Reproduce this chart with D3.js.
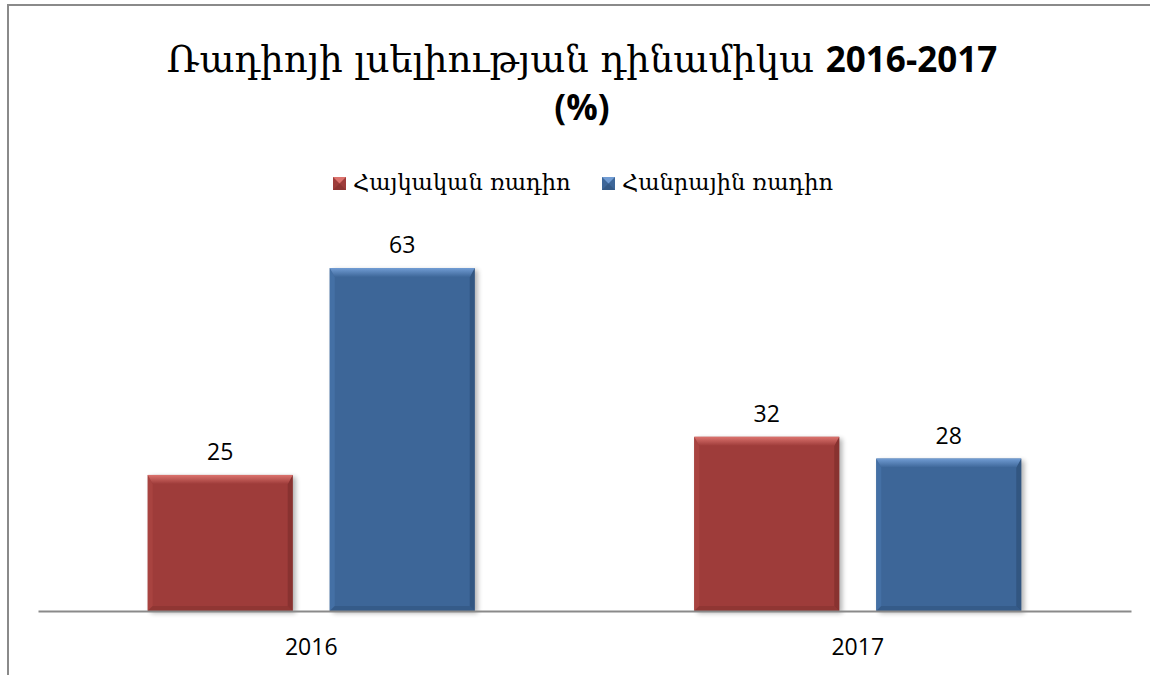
<!DOCTYPE html>
<html>
<head>
    <meta charset="utf-8">
    <title>Radio</title>
    <script src="https://d3js.org/d3.v7.min.js"></script>
    <style type="text/css">
        body { margin: 0; background: #ffffff; }
        svg { display: block; background: #ffffff; }
        .arm { font-family: "DejaVu Serif", serif; }
        .num { font-family: "Open Sans", "Liberation Sans", sans-serif; }
    </style>
</head>
<body>
<div id="chart"></div>
<script>
// data
var years = ["2016", "2017"]
var series = ["Հայկական ռադիո", "Հանրային ռադիո"]
var values = [[25, 32], [63, 28]]   // values[series][year]
var colors = [
    {main: "#9e3c3a", light: "#dc736e", side: "#a84340", dark: "#7a2c2a"},
    {main: "#3d6698", light: "#719cd3", side: "#4470a5", dark: "#2b4b72"}
]
var titleArm = "Ռադիոյի լսելիության դինամիկա "
var titleNum = "2016-2017"

var width = 1150, height = 675
var plot = {left: 38, right: 1131, top: 230, bottom: 611}

var svg = d3.select("#chart").append("svg")
    .attr("width", width)
    .attr("height", height)

var defs = svg.append("defs")
defs.append("filter").attr("id", "shadow")
    .attr("x", "-10%").attr("y", "-10%").attr("width", "130%").attr("height", "130%")
    .append("feGaussianBlur").attr("stdDeviation", 2.5)
var grads = colors.map(function(c, i) {
    var gr = defs.append("linearGradient").attr("id", "top" + i)
        .attr("x1", 0).attr("y1", 0).attr("x2", 0).attr("y2", 1)
    gr.append("stop").attr("offset", "0%").attr("stop-color", c.light)
    gr.append("stop").attr("offset", "100%").attr("stop-color", c.main)
    return "url(#top" + i + ")"
})

// outer frame (only top and left visible)
svg.append("path")
    .attr("d", "M8,675 L8,5 L1150,5")
    .attr("fill", "none")
    .attr("stroke", "#8a8a8a")
    .attr("stroke-width", 2)

// title
var title = svg.append("text")
    .attr("x", 582).attr("y", 72)
    .attr("text-anchor", "middle")
    .attr("fill", "#000")
title.append("tspan").attr("class", "arm").style("font-size", "37px").text(titleArm)
title.append("tspan").attr("class", "num").style("font-size", "35px").style("font-weight", "bold").text(titleNum)
svg.append("text")
    .attr("class", "num")
    .attr("x", 582).attr("y", 120)
    .attr("text-anchor", "middle")
    .style("font-size", "35px").style("font-weight", "bold")
    .text("(%)")

// legend
var legendX = [333, 602]
series.forEach(function(s, i) {
    var g = svg.append("g").attr("transform", "translate(" + legendX[i] + ",177)")
    g.append("rect").attr("width", 13).attr("height", 13).attr("fill", colors[i].main)
    g.append("path").attr("d", "M0,0 L13,0 L6.5,6.5 Z").attr("fill", colors[i].light)
    g.append("path").attr("d", "M0,13 L13,13 L6.5,6.5 Z").attr("fill", colors[i].dark).attr("opacity", 0.5)
    g.append("text").attr("class", "arm")
        .attr("x", 20).attr("y", 13)
        .style("font-size", "22.5px")
        .text(s)
})

// scales
var x0 = d3.scaleBand().domain(years).range([plot.left, plot.right])
var x1 = d3.scaleBand().domain(d3.range(series.length))
    .range([0, x0.bandwidth()])
    .paddingInner(0.2033).paddingOuter(0.603)
var y = d3.scaleLinear().domain([0, 70]).range([plot.bottom, plot.top])

// bars
var bars = []
series.forEach(function(s, i) {
    years.forEach(function(yr, j) {
        bars.push({s: i, year: yr, v: values[i][j]})
    })
})

var bev = 9, sb = 5
var bg = svg.selectAll(".bar").data(bars).enter().append("g")
    .attr("class", "bar")
    .attr("transform", function(d) { return "translate(" + (x0(d.year) + x1(d.s)) + "," + y(d.v) + ")" })

bg.each(function(d) {
    var g = d3.select(this)
    var w = x1.bandwidth(), h = y(0) - y(d.v), c = colors[d.s]
    g.append("rect").attr("x", 3).attr("y", 2).attr("width", w).attr("height", h)
        .attr("fill", "#000").attr("opacity", 0.3).attr("filter", "url(#shadow)")
    g.append("rect").attr("width", w).attr("height", h).attr("fill", c.main)
    g.append("path").attr("fill", c.side)
        .attr("d", "M0,0 L" + sb + "," + bev + " L" + sb + "," + (h - sb) + " L0," + h + " Z")
    g.append("path").attr("fill", c.dark).attr("opacity", 0.6)
        .attr("d", "M" + w + ",0 L" + (w - sb) + "," + bev + " L" + (w - sb) + "," + (h - sb) + " L" + w + "," + h + " Z")
    g.append("path").attr("fill", c.dark).attr("opacity", 0.4)
        .attr("d", "M0," + h + " L" + sb + "," + (h - sb) + " L" + (w - sb) + "," + (h - sb) + " L" + w + "," + h + " Z")
    g.append("path").attr("fill", grads[d.s])
        .attr("d", "M0,0 L" + w + ",0 L" + (w - sb) + "," + bev + " L" + sb + "," + bev + " Z")
})

// value labels
svg.selectAll(".val").data(bars).enter().append("text")
    .attr("class", "num val")
    .attr("x", function(d) { return x0(d.year) + x1(d.s) + x1.bandwidth() / 2 })
    .attr("y", function(d) { return y(d.v) - 15 })
    .attr("text-anchor", "middle")
    .style("font-size", "23px")
    .attr("fill", "#000")
    .text(function(d) { return d.v })

// category axis
var axis = svg.append("g")
    .attr("transform", "translate(0," + plot.bottom + ")")
    .call(d3.axisBottom(x0).tickSize(0).tickPadding(28))
axis.select(".domain").attr("stroke", "#8a8a8a").attr("stroke-width", 2)
axis.selectAll("text")
    .attr("class", "num")
    .style("font-size", "23px")
    .attr("fill", "#000")
</script>
</body>
</html>
